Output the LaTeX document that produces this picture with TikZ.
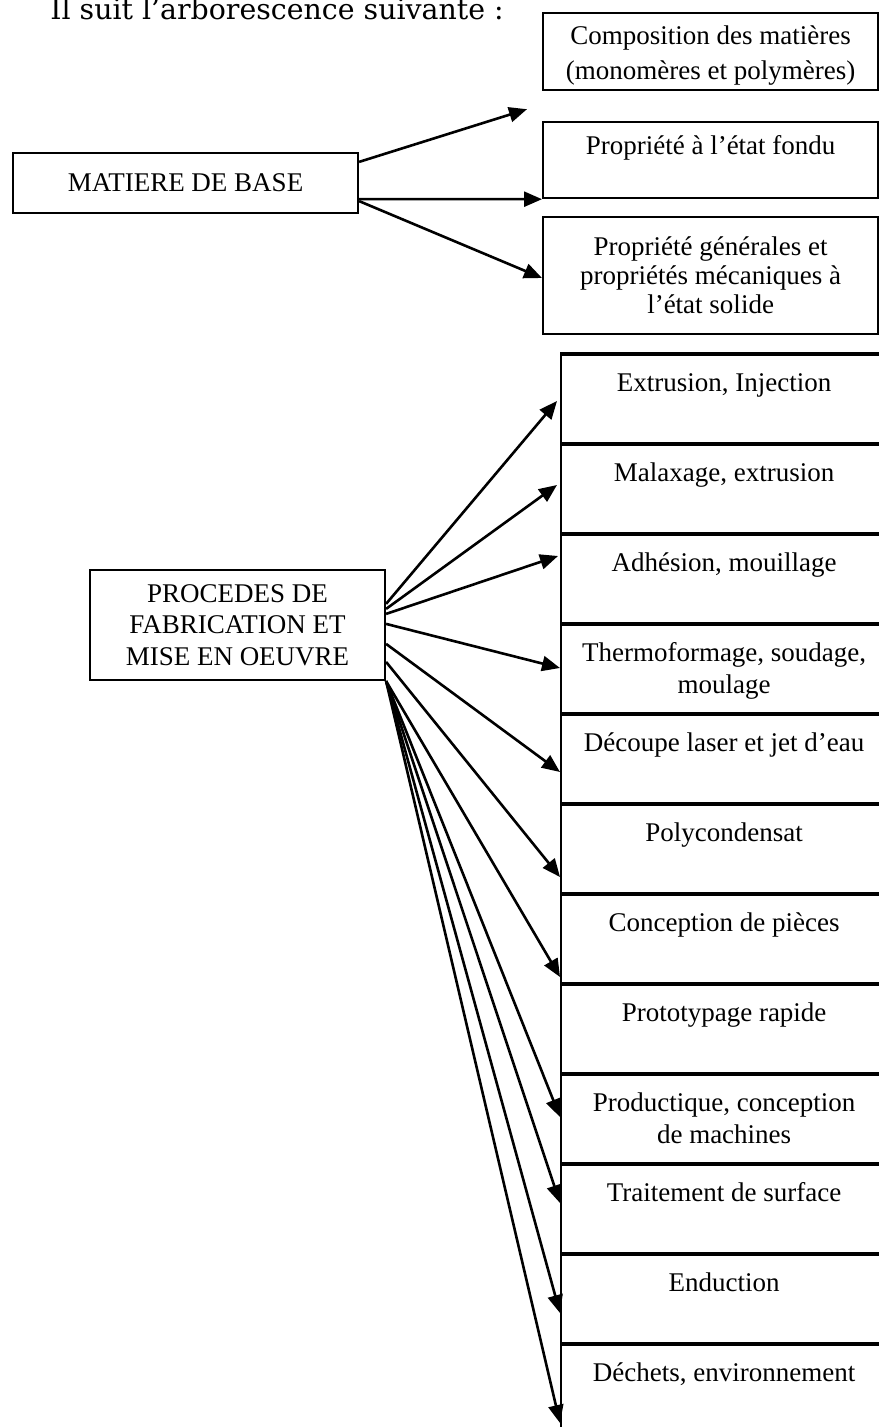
\documentclass[tikz,border=0pt]{standalone}
\usepackage{fontspec}
\setmainfont{Liberation Serif}
\newfontfamily\titlefont{DejaVu Serif}
\usepackage{tikz}
\usetikzlibrary{arrows.meta, positioning, calc}
\newcommand{\boxfont}{\fontsize{13.5}{15.5}\selectfont}

\begin{document}
\begin{tikzpicture}[
        x=0.5pt, y=-0.5pt,
        box/.style={draw, line width=1.1pt, rectangle, align=center, font=\boxfont},
        mainbox/.style={box, inner sep=0pt},
        topbox/.style={box, anchor=north west, minimum width=167.5pt, inner ysep=0pt},
        lowbox/.style={box, anchor=north west, minimum width=163pt, minimum height=45pt,
            inner ysep=0pt, text height=18pt, text depth=27pt},
        lowboxtwo/.style={lowbox, text height=34pt, text depth=11pt},
        sepline/.style={line width=2pt},
        arrow/.style={-{Triangle[length=9pt,width=7.5pt]}, line width=1.3pt}
    ]
        \useasboundingbox (0,0) rectangle (878,1427);

        % Title
        \node[anchor=base west, inner sep=0pt, font=\titlefont\fontsize{14.2}{16}\selectfont] (title) at (50,20) {Il suit l’arborescence suivante :};

        % Main branches
        \node[mainbox, minimum width=172.5pt, minimum height=30pt] (mat) at (185.5,183) {MATIERE DE BASE};
        \node[mainbox, minimum width=147.5pt, minimum height=55pt] (proc) at (237.5,625) {PROCEDES DE\\[0.25pt] FABRICATION ET\\[0.25pt] MISE EN OEUVRE};

        % Matiere de base
        \node[topbox, minimum height=38.5pt, text height=33pt, text depth=5.5pt] (comp) at (542,12) {Composition des mati\`eres\\[2pt] (monom\`eres et polym\`eres)};
        \node[topbox, minimum height=38pt, text height=16pt, text depth=22pt] (fondu) at (542,121) {Propri\'et\'e \`a l'\'etat fondu};
        \node[topbox, minimum height=58.5pt, text height=48pt, text depth=10.5pt] (solide) at (542,216) {Propri\'et\'e g\'en\'erales et\\[-1pt] propri\'et\'es m\'ecaniques \`a\\[-1pt] l'\'etat solide};

        % Procedes
        \node[lowbox] (extr) at (560,354) {Extrusion, Injection};
        \node[lowbox] (malax) at (560,444) {Malaxage, extrusion};
        \node[lowbox] (adh) at (560,534) {Adh\'esion, mouillage};
        \node[lowboxtwo] (thermo) at (560,624) {Thermoformage, soudage,\\[0.5pt] moulage};
        \node[lowbox] (decoup) at (560,714) {D\'ecoupe laser et jet d'eau};
        \node[lowbox] (poly) at (560,804) {Polycondensat};
        \node[lowbox] (concep) at (560,894) {Conception de pi\`eces};
        \node[lowbox] (proto) at (560,984) {Prototypage rapide};
        \node[lowboxtwo] (prod) at (560,1074) {Productique, conception\\[0.5pt] de machines};
        \node[lowbox] (trait) at (560,1164) {Traitement de surface};
        \node[lowbox] (endu) at (560,1254) {Enduction};
        \node[lowbox] (dech) at (560,1344) {D\'echets, environnement};

        % thick separators
        \foreach \b in {extr,malax,adh,thermo,decoup,poly,concep,proto,prod,trait,endu,dech}
            \draw[sepline] (\b.north west) -- (\b.north east);

        % Arrows
        \draw[arrow] ([yshift=-5pt]mat.north east) -- ([shift={(-7.5pt,-9pt)}]comp.south west);
        \draw[arrow] ([yshift=7.5pt]mat.south east) -- (fondu.south west);
        \draw[arrow] ([yshift=6.5pt]mat.south east) -- ([yshift=-31pt]solide.north west);

        \draw[arrow] ([yshift=-17.5pt]proc.north east) -- ([shift={(-1.5pt,-23.5pt)}]extr.north west);
        \draw[arrow] ([yshift=-20pt]proc.north east) -- ([shift={(-1.5pt,-20.5pt)}]malax.north west);
        \draw[arrow] ([yshift=-22.5pt]proc.north east) -- ([shift={(-1pt,-11pt)}]adh.north west);
        \draw[arrow] ([yshift=-27.5pt]proc.north east) -- ([yshift=-22pt]thermo.north west);
        \draw[arrow] ([yshift=-37.5pt]proc.north east) -- ([yshift=-29pt]decoup.north west);
        \draw[arrow] ([yshift=-46.5pt]proc.north east) -- ([yshift=-36.5pt]poly.north west);
        \draw[arrow] (proc.south east) -- ([yshift=-41.5pt]concep.north west);
        \draw[arrow] (proc.south east) -- ([yshift=-21.5pt]prod.north west);
        \draw[arrow] (proc.south east) -- ([yshift=-19.5pt]trait.north west);
        \draw[arrow] (proc.south east) -- ([yshift=-29.5pt]endu.north west);
        \draw[arrow] (proc.south east) -- ([yshift=-39.5pt]dech.north west);
    \end{tikzpicture}
\end{document}
